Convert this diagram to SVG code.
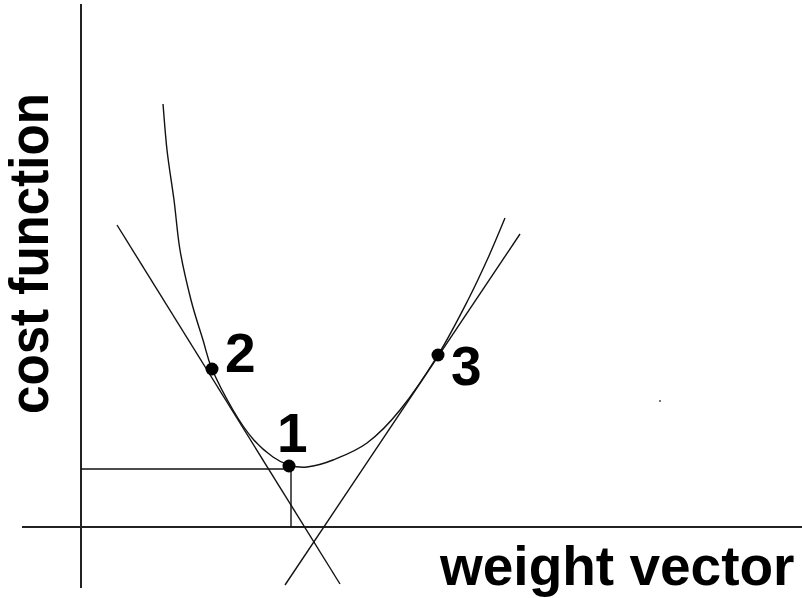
<svg xmlns="http://www.w3.org/2000/svg" width="802" height="598" viewBox="0 0 802 598">
<style>
.ax{stroke:#222;stroke-width:2;fill:none}
.ln{stroke:#111;stroke-width:1.4;fill:none}
.dot{fill:#000}
.lbl{font-family:"Liberation Sans",Arial,sans-serif;font-weight:bold;font-size:55px;fill:#000}
</style>
<rect width="802" height="598" fill="#fff"/>
<g id="axes">
<line class="ax" x1="81" y1="4" x2="81" y2="588"/>
<line class="ax" x1="22" y1="527" x2="802" y2="527"/>
</g>
<g id="connectors">
<path id="cost-curve" class="ln" d="M163,104 C163.7,111.7 165.2,134 167,150 C168.8,166 171.8,183.3 174,200 C176.2,216.7 177.2,233.3 180,250 C182.8,266.7 187.2,285 191,300 C194.8,315 199.5,328.5 203,340 C206.5,351.5 207,357.3 212,369 C217,380.7 226.2,398.3 233,410 C239.8,421.7 246.3,431.2 253,439 C259.7,446.8 267,452.7 273,457 C279,461.3 283.3,463.3 289,465 C294.7,466.7 299.7,467.8 307,467 C314.3,466.2 323,464 333,460 C343,456 355.8,451.3 367,443 C378.2,434.7 388.2,424.7 400,410 C411.8,395.3 426.7,373.3 438,355 C449.3,336.7 459.7,316.2 468,300 C476.3,283.8 481.8,271.7 488,258 C494.2,244.3 502.2,224.7 505,218"/>
<line id="tangent-2" class="ln" x1="117" y1="225" x2="340" y2="584"/>
<line id="tangent-3" class="ln" x1="285" y1="585" x2="520" y2="234"/>
<line id="proj-h" class="ln" x1="81" y1="469" x2="289" y2="469"/>
<line id="proj-v" class="ln" x1="291" y1="469" x2="291" y2="527"/>
</g>
<g id="point-1">
<circle class="dot" cx="289" cy="466" r="6.5"/>
<text class="lbl" x="277" y="452">1</text>
</g>
<g id="point-2">
<circle class="dot" cx="212" cy="369" r="6.5"/>
<text class="lbl" x="225" y="372">2</text>
</g>
<g id="point-3">
<circle class="dot" cx="438" cy="355" r="6.5"/>
<text class="lbl" x="451" y="385">3</text>
</g>
<g id="labels">
<text class="lbl" x="440" y="585">weight vector</text>
<text class="lbl" transform="translate(48,414) rotate(-90)" x="0" y="0" textLength="321" lengthAdjust="spacingAndGlyphs">cost function</text>
</g>
<rect x="659" y="400" width="2" height="2" fill="#777"/>
</svg>
